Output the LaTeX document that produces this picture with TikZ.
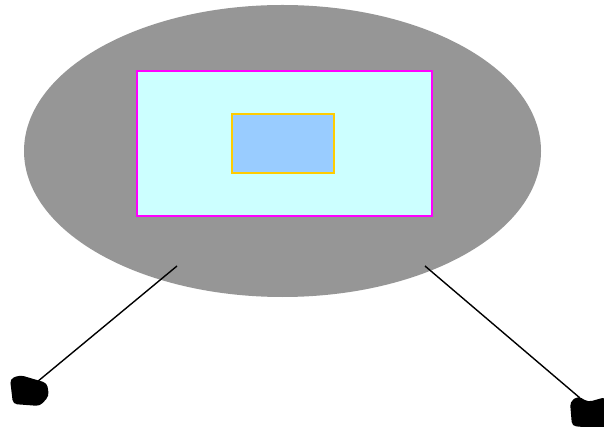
\documentclass[tikz,border=0pt]{standalone}
\usepackage{xcolor}
\usetikzlibrary{shapes.geometric}
\definecolor{discgray}{RGB}{150,150,150}
\definecolor{panecyan}{RGB}{204,255,255}
\definecolor{coreblue}{RGB}{153,204,255}
\definecolor{framemag}{RGB}{255,0,255}
\definecolor{coregold}{RGB}{255,204,0}

\begin{document}
\begin{tikzpicture}[x=1pt, y=-1pt,
    disc/.style={ellipse, fill=discgray, inner sep=0pt,
                 minimum width=517pt, minimum height=292pt},
    pane/.style={rectangle, draw=framemag, fill=panecyan, line width=1.8pt,
                 minimum width=295pt, minimum height=145pt, inner sep=0pt},
    core/.style={rectangle, draw=coregold, fill=coreblue, line width=1.8pt,
                 minimum width=102pt, minimum height=59pt, inner sep=0pt},
    leg/.style={black, line width=1.4pt},
    foot/.style={fill=black, rounded corners=4pt}
]
    \useasboundingbox (0,0) rectangle (604,427);

    \node[disc] (body)  at (282.5,151) {};
    \node[pane] (frame) at (284.5,143.5) {};
    \node[core] (inner) at (283,143.5) {};

    % feet
    \coordinate (lfoot) at (37,382);
    \coordinate (rfoot) at (580,398);
    \fill[foot] (10,379) -- (20,375) -- (47,383) -- (49,396) -- (40,406) -- (13,404) -- cycle;
    \fill[foot] (570,402) -- (578,396) -- (588,402) -- (606,397) -- (606,429) -- (572,426) -- cycle;

    % legs
    \coordinate (lhip) at (177,266);
    \coordinate (rhip) at (425,266);
    \draw[leg] (lhip) -- (lfoot);
    \draw[leg] (rhip) -- (rfoot);
\end{tikzpicture}
\end{document}
